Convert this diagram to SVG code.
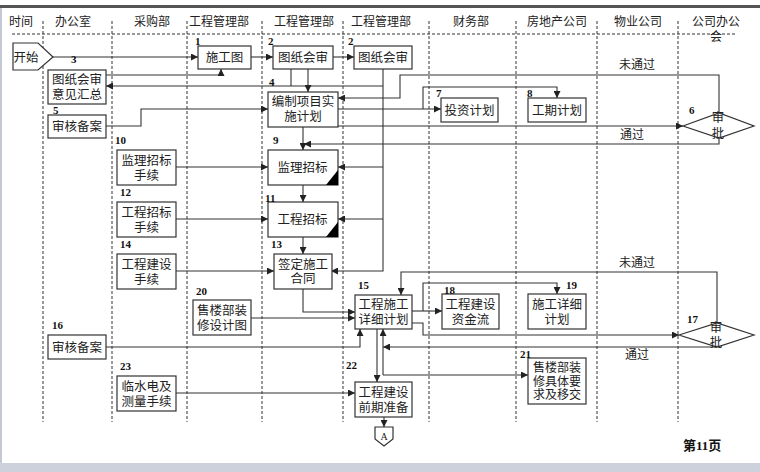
<svg xmlns="http://www.w3.org/2000/svg" width="760" height="472" viewBox="0 0 760 472">
<defs>
<marker id="ah" viewBox="0 0 8 8" refX="8" refY="4" markerWidth="7" markerHeight="7" markerUnits="userSpaceOnUse" orient="auto">
<path d="M0,0 L8,4 L0,8 z" fill="#222"/>
</marker>
<style>
.lane{stroke:#333;stroke-width:1;stroke-dasharray:3,2;fill:none}
.box{fill:#fff;stroke:#333;stroke-width:1.2}
.t{font-family:"Liberation Sans","Noto Sans CJK SC",sans-serif;font-size:12.5px;fill:#222;text-anchor:middle}
.t3{font-family:"Liberation Sans","Noto Sans CJK SC",sans-serif;font-size:12px;fill:#222;text-anchor:middle}
.h{font-family:"Liberation Sans","Noto Sans CJK SC",sans-serif;font-size:12px;fill:#222;text-anchor:middle}
.n{font-family:"Liberation Serif",serif;font-size:11px;font-weight:bold;fill:#111}
.c{fill:none;stroke:#333;stroke-width:1.1}
.ca{fill:none;stroke:#333;stroke-width:1.1;marker-end:url(#ah)}
</style>
</defs>
<rect x="0" y="0" width="760" height="472" fill="#fff"/>
<rect x="0" y="5" width="760" height="3" fill="#555"/>
<rect x="0" y="8" width="2" height="456" fill="#c4c8d4"/>
<rect x="0" y="463" width="760" height="9" fill="#cdd1dc"/>

<g id="lanes">
<path class="lane" d="M12,34 H736"/>
<path class="lane" d="M43,21 V422 M112,21 V422 M187,21 V422 M262,21 V422 M343,21 V422 M429,21 V422 M516,21 V422 M597,21 V422 M678,21 V422"/>
<text class="h" x="21" y="26">时间</text>
<text class="h" x="73" y="26">办公室</text>
<text class="h" x="152" y="26">采购部</text>
<text class="h" x="219" y="26">工程管理部</text>
<text class="h" x="304" y="26">工程管理部</text>
<text class="h" x="381" y="26">工程管理部</text>
<text class="h" x="471" y="26">财务部</text>
<text class="h" x="557" y="26">房地产公司</text>
<text class="h" x="638" y="26">物业公司</text>
<text class="h" x="716" y="26">公司办公<tspan x="716" dy="15">会</tspan></text>
</g>

<g id="connectors">
<path class="ca" d="M53,57 H198"/>
<path class="ca" d="M251,57 H273"/>
<path class="ca" d="M333,57 H354"/>
<path class="ca" d="M106,75 H221 V69"/>
<path class="c" d="M291,69 V86"/>
<path class="ca" d="M383,86 H106"/>
<path class="ca" d="M383,69 V271 H331"/>
<path class="ca" d="M383,167 H338"/>
<path class="ca" d="M383,219 H338"/>
<path class="ca" d="M308,69 V92"/>
<path class="ca" d="M719,113 V75 H400 V98 H338"/>
<path class="ca" d="M338,109 H441"/>
<path class="ca" d="M423,109 V87 H557 V98"/>
<path class="ca" d="M338,126 H683"/>
<path class="ca" d="M719,138 V144 H304"/>
<path class="ca" d="M303,127 V150"/>
<path class="ca" d="M106,126 H141 V109 H268"/>
<path class="ca" d="M175,167 H268"/>
<path class="ca" d="M175,219 H268"/>
<path class="ca" d="M175,271 H274"/>
<path class="ca" d="M303,185 V202"/>
<path class="ca" d="M303,237 V254"/>
<path class="ca" d="M303,289 V312 H355"/>
<path class="ca" d="M251,318 H355"/>
<path class="ca" d="M106,347 H360 V329"/>
<path class="ca" d="M175,393 H355"/>
<path class="ca" d="M717,323 V272 H401 V295"/>
<path class="ca" d="M412,311 H442"/>
<path class="ca" d="M423,311 V283 H557 V294"/>
<path class="ca" d="M412,323 H423 V335 H679"/>
<path class="ca" d="M717,347 H383"/>
<path class="ca" d="M377,329 V382"/>
<path class="ca" d="M383,375 V329"/>
<path class="ca" d="M383,375 H528"/>
<path class="ca" d="M384,417 V427"/>
<text class="h" x="637" y="69">未通过</text>
<text class="h" x="632" y="139">通过</text>
<text class="h" x="637" y="267">未通过</text>
<text class="h" x="637" y="359">通过</text>
</g>

<g id="start">
<path class="box" d="M13,43 H38 L53,57 L38,70 H13 Z"/>
<text class="t" x="26" y="62">开始</text>
</g>
<g id="n1">
<rect class="box" x="198" y="46" width="53" height="23"/>
<text class="t" x="224.5" y="62">施工图</text>
<text class="n" x="195" y="45">1</text>
</g>
<g id="n2a">
<rect class="box" x="273" y="46" width="60" height="23"/>
<text class="t" x="303" y="62">图纸会审</text>
<text class="n" x="268" y="45">2</text>
</g>
<g id="n2b">
<rect class="box" x="354" y="46" width="58" height="23"/>
<text class="t" x="383" y="62">图纸会审</text>
<text class="n" x="348" y="45">2</text>
</g>
<g id="n3">
<rect class="box" x="48" y="70" width="58" height="34"/>
<text class="t" x="77" y="83.5">图纸会审<tspan x="77" dy="15">意见汇总</tspan></text>
<text class="n" x="71" y="63">3</text>
</g>
<g id="n4">
<rect class="box" x="268" y="92" width="70" height="35"/>
<text class="t" x="303" y="106">编制项目实<tspan x="303" dy="14.5">施计划</tspan></text>
<text class="n" x="269" y="86">4</text>
</g>
<g id="n5">
<rect class="box" x="48" y="115" width="58" height="23"/>
<text class="t" x="77" y="131">审核备案</text>
<text class="n" x="53" y="114">5</text>
</g>
<g id="n6">
<path class="box" d="M683,126 L719,113 L754,126 L719,138 Z"/>
<text class="t" x="718" y="121.5">审<tspan x="718" dy="16">批</tspan></text>
<text class="n" x="689" y="114">6</text>
</g>
<g id="n7">
<rect class="box" x="441" y="98" width="57" height="24"/>
<text class="t" x="469.5" y="114.5">投资计划</text>
<text class="n" x="436" y="97">7</text>
</g>
<g id="n8">
<rect class="box" x="528" y="98" width="58" height="24"/>
<text class="t" x="557" y="114.5">工期计划</text>
<text class="n" x="527" y="97">8</text>
</g>
<g id="n9">
<rect class="box" x="268" y="150" width="70" height="35"/>
<path d="M326,185 L338,185 L338,170 Z" fill="#000"/>
<text class="t" x="302.5" y="172">监理招标</text>
<text class="n" x="273" y="144">9</text>
</g>
<g id="n10">
<rect class="box" x="117" y="150" width="59" height="35"/>
<text class="t" x="146.5" y="164.5">监理招标<tspan x="146.5" dy="15">手续</tspan></text>
<text class="n" x="115" y="144">10</text>
</g>
<g id="n11">
<rect class="box" x="268" y="202" width="70" height="35"/>
<path d="M326,237 L338,237 L338,222 Z" fill="#000"/>
<text class="t" x="302.5" y="224">工程招标</text>
<text class="n" x="265" y="202">11</text>
</g>
<g id="n12">
<rect class="box" x="117" y="202" width="59" height="35"/>
<text class="t" x="146.5" y="216.5">工程招标<tspan x="146.5" dy="15">手续</tspan></text>
<text class="n" x="120" y="196">12</text>
</g>
<g id="n13">
<rect class="box" x="274" y="254" width="58" height="35"/>
<text class="t" x="303" y="268.5">签定施工<tspan x="303" dy="14.5">合同</tspan></text>
<text class="n" x="271" y="248">13</text>
</g>
<g id="n14">
<rect class="box" x="117" y="254" width="59" height="35"/>
<text class="t" x="146.5" y="268.5">工程建设<tspan x="146.5" dy="15">手续</tspan></text>
<text class="n" x="120" y="248">14</text>
</g>
<g id="n15">
<rect class="box" x="355" y="295" width="57" height="34"/>
<text class="t" x="383.5" y="309">工程施工<tspan x="383.5" dy="15">详细计划</tspan></text>
<text class="n" x="358" y="289">15</text>
</g>
<g id="n16">
<rect class="box" x="48" y="335" width="58" height="24"/>
<text class="t" x="77" y="351.5">审核备案</text>
<text class="n" x="52" y="329">16</text>
</g>
<g id="n17">
<path class="box" d="M679,335 L717,323 L754,335 L717,347 Z"/>
<text class="t" x="716" y="332">审<tspan x="716" dy="14.5">批</tspan></text>
<text class="n" x="687" y="323">17</text>
</g>
<g id="n18">
<rect class="box" x="442" y="294" width="57" height="35"/>
<text class="t" x="470.5" y="308.5">工程建设<tspan x="470.5" dy="15">资金流</tspan></text>
<text class="n" x="444" y="294">18</text>
</g>
<g id="n19">
<rect class="box" x="528" y="294" width="58" height="35"/>
<text class="t" x="557" y="308.5">施工详细<tspan x="557" dy="15">计划</tspan></text>
<text class="n" x="566" y="289">19</text>
</g>
<g id="n20">
<rect class="box" x="193" y="300" width="58" height="35"/>
<text class="t" x="222" y="314.5">售楼部装<tspan x="222" dy="15">修设计图</tspan></text>
<text class="n" x="196" y="295">20</text>
</g>
<g id="n21">
<rect class="box" x="528" y="358" width="58" height="46"/>
<text class="t3" x="557" y="372">售楼部装<tspan x="557" dy="13.5">修具体要</tspan><tspan x="557" dy="13.5">求及移交</tspan></text>
<text class="n" x="520" y="358">21</text>
</g>
<g id="n22">
<rect class="box" x="355" y="382" width="57" height="35"/>
<text class="t" x="383.5" y="396.5">工程建设<tspan x="383.5" dy="15">前期准备</tspan></text>
<text class="n" x="346" y="369">22</text>
</g>
<g id="n23">
<rect class="box" x="117" y="376" width="59" height="35"/>
<text class="t" x="146.5" y="390.5">临水电及<tspan x="146.5" dy="15">测量手续</tspan></text>
<text class="n" x="120" y="370">23</text>
</g>
<g id="nA">
<path class="box" d="M375,427 H393 V439 L384,446 L375,439 Z"/>
<text x="384" y="440" font-family="Liberation Serif,serif" font-size="10" text-anchor="middle" fill="#222">A</text>
</g>
<text x="683" y="450" font-family="Liberation Serif,'Noto Sans CJK SC',serif" font-size="13" font-weight="bold" fill="#111">第11页</text>
</svg>
